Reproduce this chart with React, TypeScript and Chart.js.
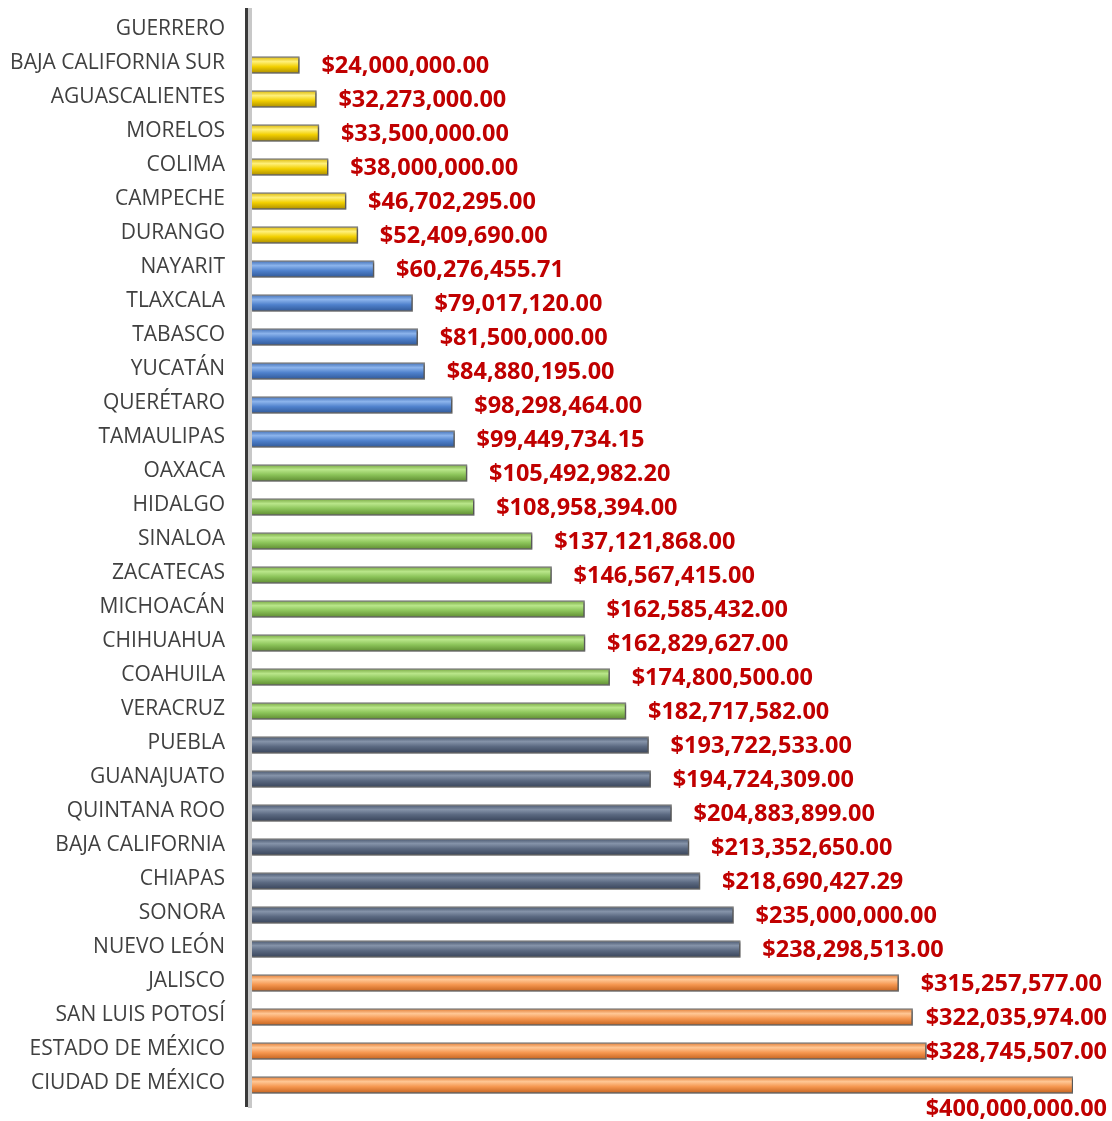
import React, { useEffect, useRef } from "react";
import { Chart, registerables } from "chart.js";

Chart.register(...registerables);

const categories = [
  "GUERRERO", "BAJA CALIFORNIA SUR", "AGUASCALIENTES", "MORELOS", "COLIMA", "CAMPECHE", "DURANGO",
  "NAYARIT", "TLAXCALA", "TABASCO", "YUCATÁN", "QUERÉTARO", "TAMAULIPAS",
  "OAXACA", "HIDALGO", "SINALOA", "ZACATECAS", "MICHOACÁN", "CHIHUAHUA", "COAHUILA", "VERACRUZ",
  "PUEBLA", "GUANAJUATO", "QUINTANA ROO", "BAJA CALIFORNIA", "CHIAPAS", "SONORA", "NUEVO LEÓN",
  "JALISCO", "SAN LUIS POTOSÍ", "ESTADO DE MÉXICO", "CIUDAD DE MÉXICO",
];

const amounts: (number | null)[] = [
  null, 24000000, 32273000, 33500000, 38000000, 46702295, 52409690,
  60276455.71, 79017120, 81500000, 84880195, 98298464, 99449734.15,
  105492982.2, 108958394, 137121868, 146567415, 162585432, 162829627, 174800500, 182717582,
  193722533, 194724309, 204883899, 213352650, 218690427.29, 235000000, 238298513,
  315257577, 322035974, 328745507, 400000000,
];

const colorGroups = [
  "yellow", "yellow", "yellow", "yellow", "yellow", "yellow", "yellow",
  "blue", "blue", "blue", "blue", "blue", "blue",
  "green", "green", "green", "green", "green", "green", "green", "green",
  "slate", "slate", "slate", "slate", "slate", "slate", "slate",
  "orange", "orange", "orange", "orange",
];

const palette: Record<string, [string, string, string, string]> = {
  yellow: ["#d9b400", "#fff07a", "#f2cf00", "#a88a00"],
  blue: ["#3f6db5", "#8cb4ec", "#4f81cc", "#2f5796"],
  green: ["#74a53e", "#b9e68a", "#8cc45a", "#5d8a30"],
  slate: ["#46546b", "#8593a9", "#5a6880", "#38445a"],
  orange: ["#e0782e", "#ffc795", "#f5964f", "#c2611d"],
};

const BAR_H = 17;

const fmt = (v: number) =>
  "$" + v.toLocaleString("en-US", { minimumFractionDigits: 2, maximumFractionDigits: 2 });

const barFill = (c: any) => {
  const chart = c.chart;
  const cols = palette[colorGroups[c.dataIndex]] || palette.orange;
  const ys = chart.scales && chart.scales.y;
  if (!ys || !chart.chartArea) return cols[2];
  const yc = ys.getPixelForValue(c.dataIndex);
  const top = yc - BAR_H / 2;
  const g = chart.ctx.createLinearGradient(0, top, 0, top + BAR_H);
  g.addColorStop(0, cols[0]);
  g.addColorStop(0.3, cols[1]);
  g.addColorStop(0.6, cols[2]);
  g.addColorStop(1, cols[3]);
  return g;
};

const barStyler = {
  id: "barStyler",
  beforeDatasetsDraw(chart: any) {
    const ctx = chart.ctx;
    ctx.save();
    ctx.shadowColor = "rgba(0,0,0,0.35)";
    ctx.shadowOffsetX = 2;
    ctx.shadowOffsetY = 1;
    ctx.shadowBlur = 2;
  },
  afterDatasetsDraw(chart: any) {
    const ctx = chart.ctx;
    ctx.restore();
    const area = chart.chartArea;
    ctx.save();
    ctx.fillStyle = "#c8c8c8";
    ctx.fillRect(area.left - 2, 8, 4, 1100);
    ctx.fillStyle = "#3a3a3a";
    ctx.fillRect(area.left - 5, 8, 3, 1099);
    ctx.restore();
    const meta = chart.getDatasetMeta(0);
    ctx.save();
    ctx.font = "bold 23.5px 'Open Sans'";
    ctx.fillStyle = "#c00000";
    ctx.textBaseline = "middle";
    const rightLimit = 1107;
    meta.data.forEach((el: any, i: number) => {
      const v = amounts[i];
      if (v == null) return;
      const text = fmt(v);
      const w = ctx.measureText(text).width;
      let x = el.x + 22;
      let y = el.y + 1;
      if (x + w > rightLimit) {
        x = rightLimit - w;
        if (x < el.x - 60) y = el.y + 24;
      }
      ctx.fillText(text, x, y);
    });
    ctx.restore();
  },
};

export default function App() {
  const ref = useRef<HTMLCanvasElement | null>(null);
  useEffect(() => {
    document.body.style.margin = "0";
    const chart = new Chart(ref.current as HTMLCanvasElement, {
      type: "bar",
      data: {
        labels: categories,
        datasets: [
          {
            data: amounts as any,
            backgroundColor: barFill,
            borderColor: "#808080",
            borderWidth: 1.5,
            barThickness: BAR_H,
          },
        ],
      },
      options: {
        indexAxis: "y",
        responsive: false,
        animation: false,
        layout: { padding: { top: 14, bottom: 19, right: 39, left: 0 } },
        plugins: { legend: { display: false }, tooltip: { enabled: false } },
        scales: {
          x: { display: false, min: 0, max: 400000000 },
          y: {
            grid: { display: false, drawTicks: false },
            border: { display: false },
            ticks: {
              color: "#404040",
              font: { family: "'Open Sans'", size: 21 },
              padding: 25,
              labelOffset: -2,
              autoSkip: false,
            },
            afterFit: (s: any) => {
              s.width = 250;
              s.paddingTop = 0;
              s.paddingBottom = 0;
            },
          },
        },
      },
      plugins: [barStyler],
    });
    return () => chart.destroy();
  }, []);
  return <canvas ref={ref} width={1112} height={1121} style={{ display: "block" }} />;
}
